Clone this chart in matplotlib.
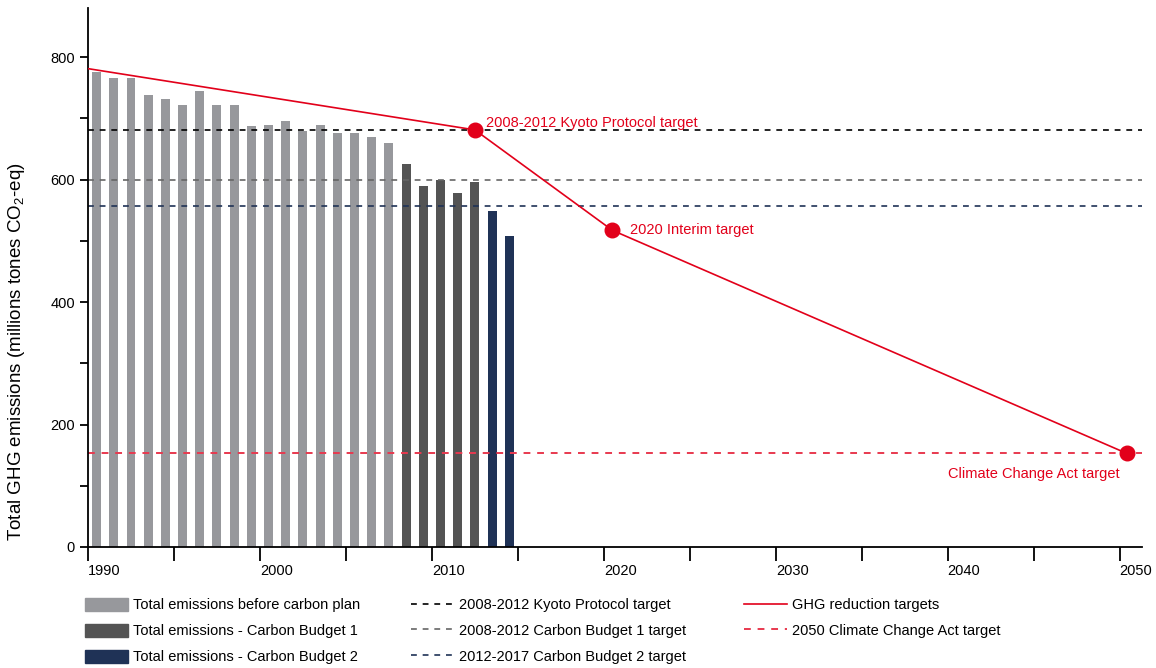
import matplotlib
matplotlib.use('Agg')
import matplotlib.pyplot as plt
from matplotlib.patches import Patch
from matplotlib.lines import Line2D

plt.rcParams['font.family'] = ['Liberation Sans', 'DejaVu Sans']
plt.rcParams['mathtext.fontset'] = 'custom'
plt.rcParams['mathtext.rm'] = 'Liberation Sans'
plt.rcParams['mathtext.it'] = 'Liberation Sans'

# emissions, millions tonnes CO2-eq
years_before = list(range(1990, 2008))
emis_before = [776, 765, 765, 738, 731, 722, 744, 722, 722, 688,
               689, 695, 680, 689, 676, 676, 669, 659]
years_cb1 = [2008, 2009, 2010, 2011, 2012]
emis_cb1 = [625, 589, 600, 578, 596]
years_cb2 = [2013, 2014]
emis_cb2 = [548, 508]

kyoto_target = 681
cb1_target = 600
cb2_target = 557
cca_target = 153

target_years = [1990, 2012.5, 2020.5, 2050.4]
target_values = [781, 681, 517, 153]
target_labels = ['2008-2012 Kyoto Protocol target', '2020 Interim target', 'Climate Change Act target']

c_light = '#97989c'
c_dark = '#545454'
c_navy = '#1f3256'
c_red = '#e2001a'
c_red2 = '#e8394f'

fig = plt.figure(figsize=(11.56, 6.68), dpi=100)
ax = fig.add_axes([88 / 1156, (668 - 547) / 668, (1142 - 88) / 1156, (547 - 8) / 668])

w = 0.52
ax.bar([y + 0.5 for y in years_before], emis_before, width=w, color=c_light)
ax.bar([y + 0.5 for y in years_cb1], emis_cb1, width=w, color=c_dark)
ax.bar([y + 0.5 for y in years_cb2], emis_cb2, width=w, color=c_navy)

dash = (0, (3.5, 3.5))
ax.axhline(kyoto_target, color='black', lw=1.2, ls=dash)
ax.axhline(cb1_target, color='#666666', lw=1.2, ls=dash)
ax.axhline(cb2_target, color=c_navy, lw=1.2, ls=dash)
ax.axhline(cca_target, color=c_red2, lw=1.4, ls=dash)

ax.plot(target_years, target_values, color=c_red, lw=1.2, zorder=4)
ax.scatter(target_years[1:], target_values[1:], s=110, color=c_red, zorder=5, clip_on=False)

ax.annotate(target_labels[0], (target_years[1], target_values[1]), xytext=(8, 0),
            textcoords='offset points', color=c_red, fontsize=10.5, va='bottom')
ax.annotate(target_labels[1], (target_years[2], target_values[2]), xytext=(13, -5),
            textcoords='offset points', color=c_red, fontsize=10.5, va='bottom')
ax.annotate(target_labels[2], (target_years[3], target_values[3]), xytext=(-5, -10),
            textcoords='offset points', color=c_red, fontsize=10.5, va='top', ha='right')

ax.set_xlim(1990, 2051.3)
ax.set_ylim(0, 880)
ax.spines['top'].set_visible(False)
ax.spines['right'].set_visible(False)
ax.spines['left'].set_linewidth(1.3)
ax.spines['bottom'].set_linewidth(1.3)

ax.set_xticks(range(1990, 2051, 5))
ax.set_xticklabels([str(y) if y % 10 == 0 else '' for y in range(1990, 2051, 5)],
                   ha='left', fontsize=10.5)
ax.tick_params(axis='x', length=10, width=1.3, pad=2)
ax.set_yticks(range(0, 801, 200))
ax.set_yticks(range(100, 801, 200), minor=True)
ax.tick_params(axis='y', which='both', length=6, width=1.3, labelsize=10.5)
ax.set_ylabel('Total GHG emissions (millions tones CO$_2$-eq)', fontsize=13.5)
ax.yaxis.set_label_coords(-0.058, 0.362)

h1 = [Patch(color=c_light), Patch(color=c_dark), Patch(color=c_navy)]
l1 = ['Total emissions before carbon plan', 'Total emissions - Carbon Budget 1',
      'Total emissions - Carbon Budget 2']
h2 = [Line2D([], [], color='black', ls=dash, lw=1.2),
      Line2D([], [], color='#666666', ls=dash, lw=1.2),
      Line2D([], [], color=c_navy, ls=dash, lw=1.2)]
l2 = ['2008-2012 Kyoto Protocol target', '2008-2012 Carbon Budget 1 target',
      '2012-2017 Carbon Budget 2 target']
h3 = [Line2D([], [], color=c_red, lw=1.2), Line2D([], [], color=c_red2, ls=dash, lw=1.4)]
l3 = ['GHG reduction targets', '2050 Climate Change Act target']

common = dict(loc='upper left', frameon=False, fontsize=10.5, handlelength=2.95,
              handleheight=1.0, labelspacing=0.78, handletextpad=0.35, borderaxespad=0)
fig.legend(h1, l1, bbox_to_anchor=(79 / 1156, 1 - 592 / 668), **common)
fig.legend(h2, l2, bbox_to_anchor=(405 / 1156, 1 - 592 / 668), **common)
fig.legend(h3, l3, bbox_to_anchor=(738 / 1156, 1 - 592 / 668), **common)

fig.savefig('out.png', dpi=100)
